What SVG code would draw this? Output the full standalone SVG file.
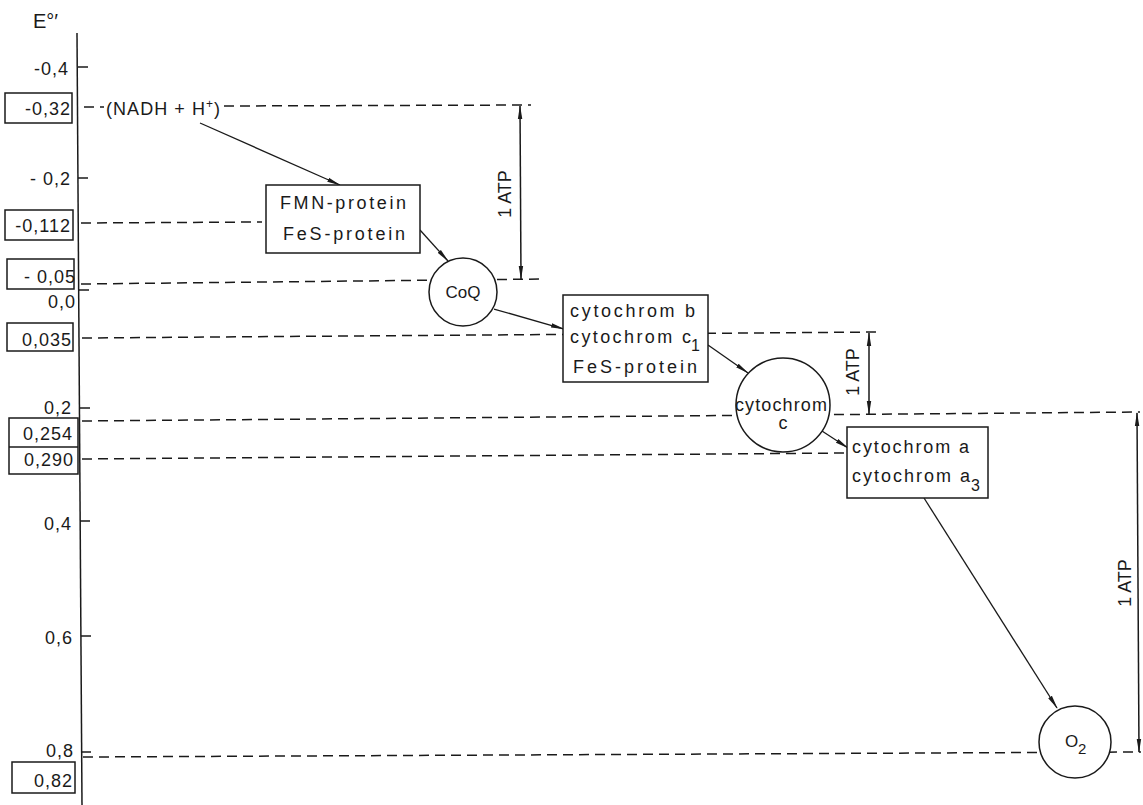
<svg xmlns="http://www.w3.org/2000/svg" width="1143" height="805" viewBox="0 0 1143 805">
<defs>
<style>
text{font-family:"Liberation Sans","DejaVu Sans",Arial,sans-serif;fill:#1a1a1a}
.ax{font-size:18px;text-anchor:end;letter-spacing:1px}
.lb{font-size:18px}
.ln{stroke:#1a1a1a;stroke-width:1.5;fill:none}
.ds{stroke:#1a1a1a;stroke-width:1.5;fill:none;stroke-dasharray:10 6}
.bx{stroke:#1a1a1a;stroke-width:1.5;fill:#fff}
.ar{stroke:#1a1a1a;stroke-width:1.3;fill:none;marker-end:url(#ah)}
.dim{stroke:#1a1a1a;stroke-width:1.5;fill:none;marker-start:url(#ah2);marker-end:url(#ah)}
</style>
<marker id="ah" viewBox="0 0 14 6" refX="13" refY="3" markerWidth="14" markerHeight="6" markerUnits="userSpaceOnUse" orient="auto">
<path d="M0,0.8 L14,3 L0,5.2 Z" fill="#1a1a1a"/>
</marker>
<marker id="ah2" viewBox="0 0 14 6" refX="1" refY="3" markerWidth="14" markerHeight="6" markerUnits="userSpaceOnUse" orient="auto">
<path d="M14,0.8 L0,3 L14,5.2 Z" fill="#1a1a1a"/>
</marker>
</defs>
<rect width="1143" height="805" fill="#fff"/>

<g id="axis">
<line class="ln" x1="77" y1="33" x2="82" y2="805"/>
<text x="33" y="28" style="font-size:20px">E°′</text>
<line class="ln" x1="78" y1="67" x2="88" y2="67"/>
<line class="ln" x1="78" y1="178" x2="88" y2="178"/>
<line class="ln" x1="79" y1="290" x2="89" y2="290"/>
<line class="ln" x1="80" y1="408" x2="90" y2="408"/>
<line class="ln" x1="80" y1="521" x2="90" y2="521"/>
<line class="ln" x1="81" y1="636" x2="91" y2="636"/>
<line class="ln" x1="81" y1="752" x2="91" y2="752"/>
<text class="ax" x="69" y="75">-0,4</text>
<text class="ax" x="71" y="185">- 0,2</text>
<text class="ax" x="76" y="308">0,0</text>
<text class="ax" x="72" y="414">0,2</text>
<text class="ax" x="72" y="530">0,4</text>
<text class="ax" x="73" y="644">0,6</text>
<text class="ax" x="74" y="757">0,8</text>
<rect class="bx" x="5" y="93" width="67" height="30"/>
<text class="ax" x="71" y="115">-0,32</text>
<rect class="bx" x="5" y="210" width="68" height="30"/>
<text class="ax" x="71" y="232">-0,112</text>
<rect class="bx" x="7" y="259" width="67" height="30"/>
<text class="ax" x="76" y="283">- 0,05</text>
<rect class="bx" x="7" y="323" width="66" height="28"/>
<text class="ax" x="72" y="346">0,035</text>
<rect class="bx" x="9" y="418" width="69" height="56"/>
<line class="ln" x1="9" y1="447" x2="78" y2="447"/>
<text class="ax" x="73" y="440">0,254</text>
<text class="ax" x="74" y="466">0,290</text>
<rect class="bx" x="12" y="762" width="63" height="31"/>
<text class="ax" x="73" y="787">0,82</text>
</g>

<g id="levels">
<line class="ds" x1="84" y1="107" x2="104" y2="107"/>
<line class="ds" x1="224" y1="106" x2="531" y2="105"/>
<line class="ds" x1="81" y1="223" x2="262" y2="222"/>
<line class="ds" x1="81" y1="284" x2="542" y2="279"/>
<line class="ds" x1="82" y1="338" x2="882" y2="332"/>
<line class="ds" x1="82" y1="421" x2="1140" y2="412"/>
<line class="ds" x1="82" y1="459" x2="846" y2="453"/>
<line class="ds" x1="83" y1="757" x2="1141" y2="752"/>
</g>

<g id="connectors">
<line class="ar" x1="200" y1="123" x2="340" y2="185"/>
<line class="ar" x1="420" y1="230" x2="448" y2="261"/>
<line class="ar" x1="494" y1="309" x2="564" y2="329"/>
<line class="ar" x1="708" y1="345" x2="748" y2="373"/>
<line class="ar" x1="822" y1="431" x2="848" y2="448"/>
<line class="ar" x1="924" y1="498" x2="1057" y2="708"/>
</g>

<g id="atp1">
<line class="dim" x1="520" y1="106" x2="521" y2="279"/>
<text class="lb" transform="translate(511,194) rotate(-90)" text-anchor="middle">1 ATP</text>
</g>
<g id="atp2">
<line class="dim" x1="869" y1="333" x2="869" y2="414"/>
<text class="lb" transform="translate(859,372) rotate(-90)" text-anchor="middle">1 ATP</text>
</g>
<g id="atp3">
<line class="dim" x1="1137" y1="413" x2="1139" y2="752"/>
<text class="lb" transform="translate(1131,583) rotate(-90)" text-anchor="middle">1 ATP</text>
</g>

<g id="nadh">
<text x="106" y="115" style="font-size:18px" textLength="114" lengthAdjust="spacing">(NADH + H<tspan dy="-7" style="font-size:12px">+</tspan><tspan dy="7">)</tspan></text>
</g>

<g id="fmn">
<rect class="bx" x="266" y="185" width="154" height="68"/>
<text class="lb" x="280" y="209" textLength="126" lengthAdjust="spacing">FMN-protein</text>
<text class="lb" x="283" y="240" textLength="122" lengthAdjust="spacing">FeS-protein</text>
</g>

<g id="coq">
<circle class="bx" cx="463" cy="292" r="34"/>
<text x="463" y="298" style="font-size:17px" text-anchor="middle">CoQ</text>
</g>

<g id="cytb">
<rect class="bx" x="563" y="295" width="145" height="87"/>
<text class="lb" x="570" y="317" textLength="125" lengthAdjust="spacing">cytochrom b</text>
<text class="lb" x="570" y="343" textLength="121" lengthAdjust="spacing">cytochrom c</text>
<text x="691" y="351" style="font-size:16px">1</text>
<text class="lb" x="573" y="373" textLength="124" lengthAdjust="spacing">FeS-protein</text>
</g>

<g id="cytc">
<circle class="bx" cx="783" cy="405" r="47"/>
<text class="lb" x="735" y="411" textLength="92" lengthAdjust="spacing">cytochrom</text>
<text class="lb" x="783" y="429" text-anchor="middle">c</text>
</g>

<g id="cyta">
<rect class="bx" x="847" y="427" width="141" height="71"/>
<text class="lb" x="852" y="453" textLength="117" lengthAdjust="spacing">cytochrom a</text>
<text class="lb" x="852" y="482" textLength="118" lengthAdjust="spacing">cytochrom a</text>
<text x="971" y="491" style="font-size:16px">3</text>
</g>

<g id="o2">
<circle class="bx" cx="1075" cy="742" r="36"/>
<text x="1065" y="747" style="font-size:17px">O</text>
<text x="1078" y="754" style="font-size:15px">2</text>
</g>
</svg>
